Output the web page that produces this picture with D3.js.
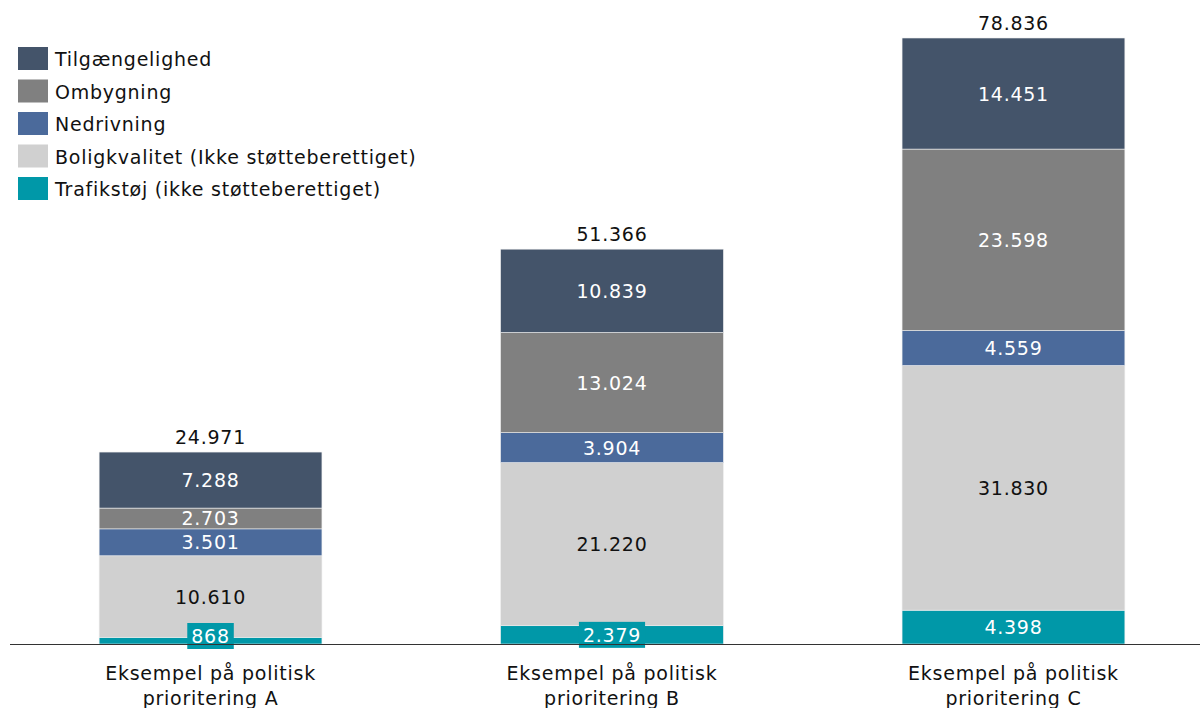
<!DOCTYPE html>
<html><head><meta charset="utf-8">
<script src="https://cdn.jsdelivr.net/npm/d3@7"></script>
<style>body{margin:0;background:#fff}svg{display:block}text{font-family:"DejaVu Sans",Verdana,sans-serif;letter-spacing:0.75px}</style>
</head><body><svg id="c" width="1200" height="708"></svg>
<script>
const categories = ["Eksempel på politisk|prioritering A", "Eksempel på politisk|prioritering B", "Eksempel på politisk|prioritering C"];
const seriesNames = ["Trafikstøj (ikke støtteberettiget)", "Boligkvalitet (Ikke støtteberettiget)", "Nedrivning", "Ombygning", "Tilgængelighed"];
const trafikstoej = [868, 2379, 4398];
const boligkvalitet = [10610, 21220, 31830];
const nedrivning = [3501, 3904, 4559];
const ombygning = [2703, 13024, 23598];
const tilgaengelighed = [7288, 10839, 14451];
const totals = [24971, 51366, 78836];
const colors = ["#0098A8", "#D0D0D0", "#4B6A9B", "#808080", "#44546A"];
const labelColors = ["#fff", "#111", "#fff", "#fff", "#fff"];

const seriesValues = [trafikstoej, boligkvalitet, nedrivning, ombygning, tilgaengelighed];
const fmt = v => d3.format(",")(v).replace(/,/g, ".");
const svg = d3.select("#c");
const baseY = 644;
const FS = 19;
const x = d3.scaleBand().domain(categories).range([10, 1214]).paddingInner(0.445).paddingOuter(0.222);
const y = d3.scaleLinear().domain([0, d3.max(totals)]).range([baseY, 38]);

const table = categories.map((c, i) => {
  const o = {cat: c};
  seriesNames.forEach((s, j) => o[s] = seriesValues[j][i]);
  return o;
});
const stacked = d3.stack().keys(seriesNames)(table);

const g = svg.append("g");
stacked.forEach((layer, j) => {
  g.selectAll(null).data(layer).enter().append("rect")
    .attr("x", d => x(d.data.cat))
    .attr("y", d => y(d[1]))
    .attr("width", x.bandwidth())
    .attr("height", d => y(d[0]) - y(d[1]))
    .attr("fill", colors[j])
    .attr("stroke", "#eeeeee").attr("stroke-width", 0.6);
});

// segment labels
stacked.forEach((layer, j) => {
  layer.forEach(d => {
    const cx = x(d.data.cat) + x.bandwidth() / 2;
    const h = y(d[0]) - y(d[1]);
    let cy = (y(d[0]) + y(d[1])) / 2;
    cy = Math.min(cy, baseY - 8);
    const t = svg.append("text").attr("x", cx).attr("y", cy)
      .attr("text-anchor", "middle").attr("dominant-baseline", "central")
      .attr("font-size", FS).attr("fill", labelColors[j]).text(fmt(d[1] - d[0]));
    if (h < 20) {
      const bb = t.node().getBBox();
      svg.insert("rect", function(){ return t.node(); })
        .attr("x", bb.x - 4).attr("y", cy - 13).attr("width", bb.width + 8).attr("height", 26)
        .attr("fill", colors[j]);
    }
  });
});

// totals
categories.forEach((c, i) => {
  svg.append("text").attr("x", x(c) + x.bandwidth() / 2).attr("y", y(totals[i]) - 8)
    .attr("text-anchor", "middle").attr("font-size", FS).attr("fill", "#111").text(fmt(totals[i]));
});

// axis
const ax = svg.append("g").attr("transform", `translate(0,${baseY})`)
  .call(d3.axisBottom(x).tickSize(0).tickFormat(""));
ax.select(".domain").attr("d", "M10,0.5H1200").attr("stroke", "#333").attr("stroke-width", 1);
categories.forEach(c => {
  const lines = c.split("|");
  lines.forEach((ln, k) => {
    svg.append("text").attr("x", x(c) + x.bandwidth() / 2).attr("y", baseY + 36 + k * 25)
      .attr("text-anchor", "middle").attr("font-size", FS).attr("fill", "#111").text(ln);
  });
});

// legend
const legendOrder = seriesNames.map((s, j) => ({s, c: colors[j]})).reverse();
const lg = svg.append("g");
legendOrder.forEach((d, i) => {
  const yy = 47 + i * 32.5;
  lg.append("rect").attr("x", 18).attr("y", yy).attr("width", 30).attr("height", 23).attr("fill", d.c);
  lg.append("text").attr("x", 55).attr("y", yy + 12).attr("dominant-baseline", "central")
    .attr("font-size", FS).attr("fill", "#111").text(d.s);
});
</script></body></html>
